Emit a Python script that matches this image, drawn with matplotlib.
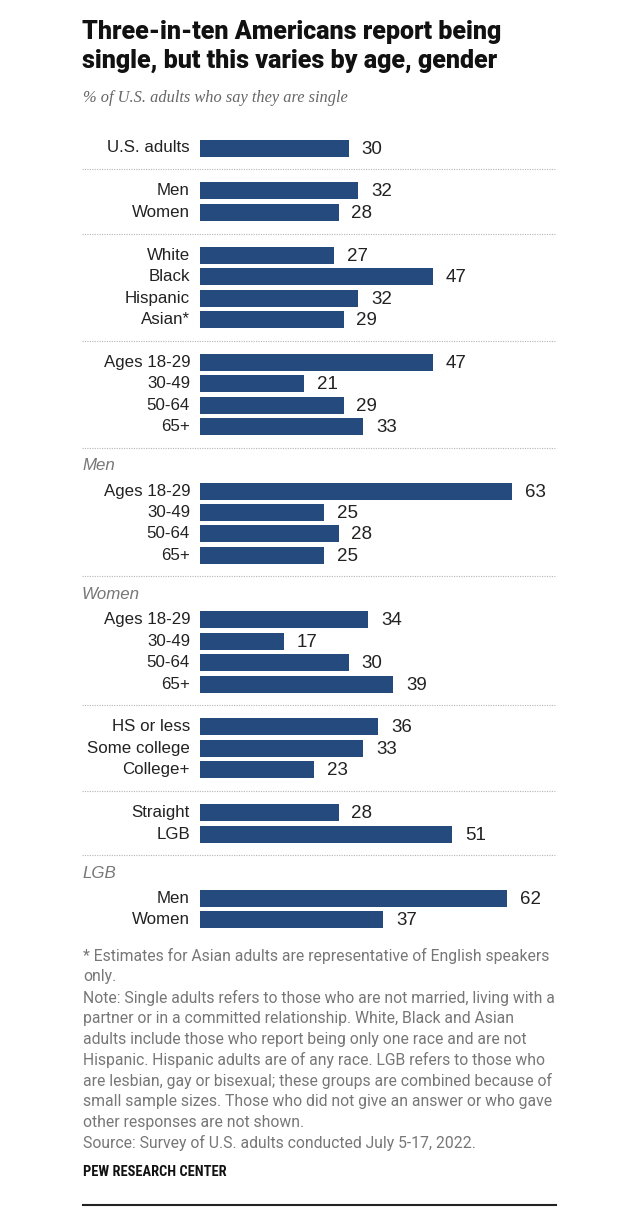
import matplotlib
matplotlib.use('Agg')
import matplotlib.pyplot as plt

# Data
groups = [
    (None, ['U.S. adults'], [30]),
    (None, ['Men', 'Women'], [32, 28]),
    (None, ['White', 'Black', 'Hispanic', 'Asian*'], [27, 47, 32, 29]),
    (None, ['Ages 18-29', '30-49', '50-64', '65+'], [47, 21, 29, 33]),
    ('Men', ['Ages 18-29', '30-49', '50-64', '65+'], [63, 25, 28, 25]),
    ('Women', ['Ages 18-29', '30-49', '50-64', '65+'], [34, 17, 30, 39]),
    (None, ['HS or less', 'Some college', 'College+'], [36, 33, 23]),
    (None, ['Straight', 'LGB'], [28, 51]),
    ('LGB', ['Men', 'Women'], [62, 37]),
]

title_lines = ['Three-in-ten Americans report being',
               'single, but this varies by age, gender']
subtitle = '% of U.S. adults who say they are single'
notes = [
    '* Estimates for Asian adults are representative of English speakers',
    'only.',
    'Note: Single adults refers to those who are not married, living with a',
    'partner or in a committed relationship. White, Black and Asian',
    'adults include those who report being only one race and are not',
    'Hispanic. Hispanic adults are of any race. LGB refers to those who',
    'are lesbian, gay or bisexual; these groups are combined because of',
    'small sample sizes. Those who did not give an answer or who gave',
    'other responses are not shown.',
    'Source: Survey of U.S. adults conducted July 5-17, 2022.',
]
source_org = 'PEW RESEARCH CENTER'

W, H = 640, 1208
BAR = '#244a7e'
ROBOTO = ['Roboto', 'DejaVu Sans']
NARROW = ['Roboto Condensed', 'Archivo Narrow', 'DejaVu Sans']
SANS = ['Liberation Sans', 'DejaVu Sans']
SERIF = ['Liberation Serif', 'DejaVu Serif']

fig = plt.figure(figsize=(W / 100, H / 100), dpi=100)
fig.patch.set_facecolor('white')

# background axes in pixel coordinates for text and rules
bg = fig.add_axes([0, 0, 1, 1])
bg.set_xlim(0, W)
bg.set_ylim(H, 0)
bg.axis('off')

# bar axes: starts at x=200 px, ~4.95 px per percentage point
px_per_unit = 4.95
bx0 = 200
ax = fig.add_axes([bx0 / W, 0, (W - bx0) / W, 1])
ax.set_xlim(0, (W - bx0) / px_per_unit)
ax.set_ylim(H, 0)
ax.axis('off')

# title and subtitle
for i, line in enumerate(title_lines):
    bg.text(82, 39 + i * 29, line, ha='left', va='baseline', fontsize=18,
            fontweight='heavy', family=ROBOTO, color='#111111')
bg.text(83, 98, subtitle, ha='left', va='center', fontsize=11.8,
        style='italic', family=SERIF, color='#666666')

# layout of rows
pitch = 21.44
y = 148
for gi, (header, labels, vals) in enumerate(groups):
    if gi > 0:
        if header is None:
            sep = y + pitch
            y += 2 * pitch
        else:
            sep = y + pitch - 0.5
            y += 3 * pitch
        bg.plot([82, 556], [sep, sep], color='#b5b5b5', lw=0.8,
                linestyle=(0, (1, 1.2)))
        if header is not None:
            bg.text(82, sep + 18, header, ha='left', va='center', fontsize=12.2,
                    style='italic', family=SANS, color='#777777')
    for j, (lab, v) in enumerate(zip(labels, vals)):
        yy = y + j * pitch
        ax.barh(yy, v, height=17, color=BAR, left=0)
        ax.text(v + 2.6, yy + 1, str(v), ha='left', va='center', fontsize=13.5,
                family=SANS, color='#222222')
        bg.text(190, yy, lab, ha='right', va='center', fontsize=12.2,
                family=SANS, color='#222222')
    y += (len(labels) - 1) * pitch

# notes
for k, line in enumerate(notes):
    bg.text(83, 956 + k * 20.8, line, ha='left', va='center', fontsize=11.3,
            family=ROBOTO, color='#777777')
bg.text(83, 1172, source_org, ha='left', va='center', fontsize=10.4,
        fontweight='bold', family=NARROW, color='#111111')
bg.plot([83, 556], [1205, 1205], color='#222222', lw=1.5)

fig.savefig('out.png', dpi=100, facecolor='white')
